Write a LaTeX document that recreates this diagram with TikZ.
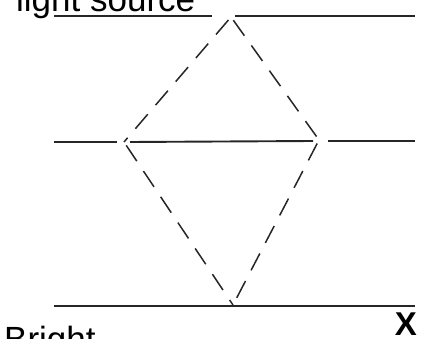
\documentclass[tikz,border=0pt]{standalone}
\usepackage{fontspec}
\setmainfont{Liberation Sans}
\begin{document}
\begin{tikzpicture}[x=1pt,y=-1pt,
  plate/.style={line width=1.9pt, black!85},
  ray/.style={line width=1.5pt, black!85, dash pattern=on 19pt off 12pt, dash phase=-4pt},
  lbl/.style={inner sep=0pt, anchor=base west, font=\fontsize{35}{40}\selectfont}]
\useasboundingbox (0,0) rectangle (423,339);
\clip (0,0) rectangle (423,339);
% vertices
\coordinate (A) at (231,17);
\coordinate (L) at (124,142);
\coordinate (R) at (319,140);
\coordinate (B) at (233,305);
% plate end points
\coordinate (t1) at (54,16);  \coordinate (t2) at (212,16);
\coordinate (t3) at (235,16); \coordinate (t4) at (415,16);
\coordinate (m1) at (54,142); \coordinate (m2) at (117,142);
\coordinate (m3) at (130,142); \coordinate (m4) at (313,141);
\coordinate (m5) at (328,141); \coordinate (m6) at (415,141);
\coordinate (b1) at (54,306); \coordinate (b2) at (415,306);
\draw[plate] (t1) -- (t2);
\draw[plate] (t3) -- (t4);
\draw[plate] (m1) -- (m2);
\draw[plate] (m3) -- (m4);
\draw[plate] (m5) -- (m6);
\draw[plate] (b1) -- (b2);
% rays
\draw[ray] (A) -- (L);
\draw[ray] (A) -- (R);
\draw[ray] (L) -- (B);
\draw[ray] (R) -- (B);
% labels
\node[lbl] (src) at (16,12) {light source};
\node[lbl] (spot) at (4,351) {Bright};
\node[inner sep=0pt, font=\fontsize{33}{38}\selectfont\bfseries] (xl) at (406,324) {X};
\end{tikzpicture}
\end{document}
